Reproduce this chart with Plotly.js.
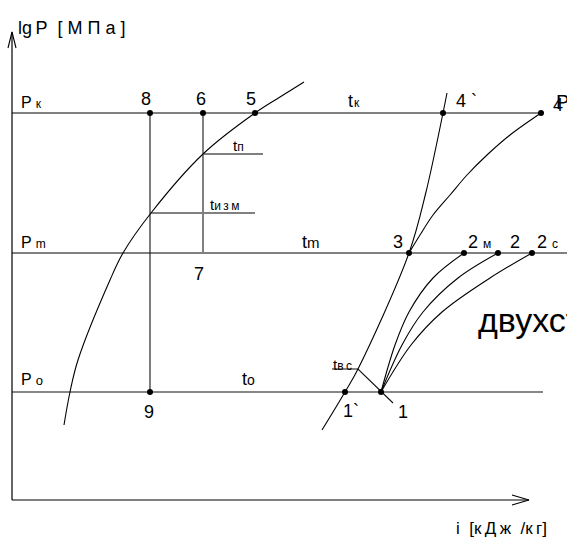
<!DOCTYPE html>
<html><head><meta charset="utf-8">
<script src="https://cdn.plot.ly/plotly-3.0.1.min.js"></script>
<style>html,body{margin:0;padding:0;background:#fff;overflow:hidden}</style>
</head><body><div id="chart" style="width:567px;height:537px"></div>
<script>
// ---- data (diagram units: i along x, lgP along y) ----
const isobarNames  = ['к', 'm', 'o'];
const isobarLgP    = [424, 284, 145];      // Pк, Pm, Po
const isobarStartI = [12, 12, 12];
const isobarEndI   = [541, 567, 543];

const pointLabels = ['8', '6', '5', '4 `', '4', '3', '2м', '2', '2с', '9', '1`', '1'];
const pointI      = [150, 203, 255, 443, 541, 409, 464, 498, 532, 150, 345, 381];
const pointLgP    = [424, 424, 424, 424, 424, 284, 284, 284, 284, 145, 145, 145];

const satLiquidI   = [64, 70, 78, 110, 123, 151, 203, 255, 280, 304];
const satLiquidLgP = [112, 145, 177, 257, 284, 324, 383, 424, 440, 455];

const satVaporI   = [322, 345, 358, 409, 426, 443, 447];
const satVaporLgP = [107, 145, 168, 284, 345, 424, 444];

const comp34I   = [409, 420, 433, 450, 467, 487, 510, 541];
const comp34LgP = [284, 302, 322, 342, 362, 382, 402, 424];

const comp12mI  = [381, 395, 409, 433, 464];
const comp12I   = [381, 402, 423, 458, 498];
const comp12cI  = [381, 411, 442, 490, 532];
const comp12LgP = [145, 192, 225, 259, 284];

const throttle89I = [150, 150], throttle89LgP = [424, 145];
const throttle67I = [203, 203], throttle67LgP = [424, 284];

const tpI   = [203, 263], tpLgP   = [383, 383];
const tizmI = [151, 255], tizmLgP = [324, 324];
const tvsI  = [332, 358, 393], tvsLgP = [168, 168, 134];

const yAxisI = [12, 12], yAxisLgP = [37, 505];
const yArrowI = [8, 12, 16], yArrowLgP = [489, 505, 489];
const xAxisI = [12, 529], xAxisLgP = [37, 37];
const xArrowI = [512, 529, 512], xArrowLgP = [42, 37, 32];

// ---- drawing ----
const FONT = 'Liberation Sans, Arial, sans-serif';
const GRAY = '#808080';
function ln(x, y, color, width, spline) {
  return {type: 'scatter', mode: 'lines', x: x, y: y, hoverinfo: 'skip',
    line: {color: color, width: width, shape: spline ? 'spline' : 'linear', smoothing: 1}};
}
const traces = [];
isobarLgP.forEach(function (p, k) {
  traces.push(ln([isobarStartI[k], isobarEndI[k]], [p, p], k === 2 ? '#111' : GRAY, k === 2 ? 1.1 : 2));
});
traces.push(ln(throttle89I, throttle89LgP, '#111', 1.1));
traces.push(ln(throttle67I, throttle67LgP, GRAY, 2));
traces.push(ln(tpI, tpLgP, GRAY, 2));
traces.push(ln(tizmI, tizmLgP, GRAY, 2));
traces.push(ln(tvsI, tvsLgP, '#111', 1.1));
traces.push(ln(satLiquidI, satLiquidLgP, '#000', 1.1, true));
traces.push(ln(satVaporI, satVaporLgP, '#000', 1.1, true));
traces.push(ln(comp34I, comp34LgP, '#000', 1.1, true));
traces.push(ln(comp12mI, comp12LgP, '#000', 1.1, true));
traces.push(ln(comp12I, comp12LgP, '#000', 1.1, true));
traces.push(ln(comp12cI, comp12LgP, '#000', 1.1, true));
traces.push(ln(yAxisI, yAxisLgP, '#000', 1.2));
traces.push(ln(yArrowI, yArrowLgP, '#000', 1.1));
traces.push(ln(xAxisI, xAxisLgP, '#000', 1.2));
traces.push(ln(xArrowI, xArrowLgP, '#000', 1.1));
traces.push({type: 'scatter', mode: 'markers', x: pointI, y: pointLgP, hoverinfo: 'skip',
  marker: {size: 6, color: '#000'}});

function sm(t, s) { return "<span style='font-size:" + s + "px'>" + t + "</span>"; }
function ann(x, y, text, size, xanchor, xs, ys) {
  return {x: x, y: y, text: text, showarrow: false, xanchor: xanchor || 'center', yanchor: 'middle',
    xshift: xs || 0, yshift: ys || 0, font: {family: FONT, size: size, color: '#000'}};
}
// point label placement (style)
const labelPlace = {
  '8': ['center', -4, 14], '6': ['center', -2, 14], '5': ['center', -4, 14],
  '4 `': ['left', 11, 12], '4': ['left', 10, 8], '3': ['center', -11, 11],
  '2м': ['left', 2, 11], '2': ['center', 17, 11], '2с': ['left', 3, 11],
  '9': ['center', -1, -20], '1`': ['left', -4, -19], '1': ['left', 15, -20]
};
const annotations = [];
pointLabels.forEach(function (lab, k) {
  const pl = labelPlace[lab];
  let txt = lab;
  if (lab === '2м') txt = '2 ' + sm('м', 12);
  if (lab === '2с') txt = '2 ' + sm('с', 12);
  annotations.push(ann(pointI[k], pointLgP[k], txt, 18, pl[0], pl[1], pl[2]));
});
annotations.push(ann(throttle67I[1], throttle67LgP[1], '7', 18, 'center', -4, -21));
annotations.push(ann(554, 435, 'Р', 20, 'left'));
// isobar labels
const isoSub = [12, 12, 13], isoYs = [11, 11, 13];
isobarNames.forEach(function (n, k) {
  annotations.push(ann(isobarStartI[k], isobarLgP[k], 'P ' + sm(n, isoSub[k]), 16, 'left', 7, isoYs[k]));
});
// isotherm labels
annotations.push(ann(346, isobarLgP[0], 't' + sm('\u200Aк', 12), 18, 'left', 0, 12));
annotations.push(ann(300, isobarLgP[1], 't' + sm('m', 15), 18, 'left', 0, 11));
annotations.push(ann(240, isobarLgP[2], 't' + sm('o', 14), 18, 'left', 0, 13));
annotations.push(ann(231, tpLgP[0], 't' + sm('п', 12), 15, 'left', 0, 9));
annotations.push(ann(208, tizmLgP[0], 't' + sm('и\u2009з\u2009м', 12), 15, 'left', 0, 8.5));
annotations.push(ann(331, tvsLgP[0], 't' + sm('в\u2009с', 12), 15, 'left', 0, 5));
// axis titles and caption
annotations.push(ann(16, 509, 'lg\u2009P\u00A0\u00A0[\u00A0М\u00A0П\u00A0а\u00A0]', 18, 'left'));
annotations.push(ann(454, 9, 'i\u00A0\u00A0[к\u2009Д\u2009ж\u00A0\u00A0/к\u2009г]', 17, 'left'));
annotations.push(ann(476, 217, 'двухступенчатой', 34, 'left'));

const layout = {
  width: 567, height: 537, margin: {l: 0, r: 0, t: 0, b: 0},
  paper_bgcolor: '#fff', plot_bgcolor: '#fff', showlegend: false,
  xaxis: {range: [0, 567], visible: false, fixedrange: true},
  yaxis: {range: [0, 537], visible: false, fixedrange: true},
  annotations: annotations
};
Plotly.newPlot('chart', traces, layout, {displayModeBar: false, staticPlot: true});
</script></body></html>
